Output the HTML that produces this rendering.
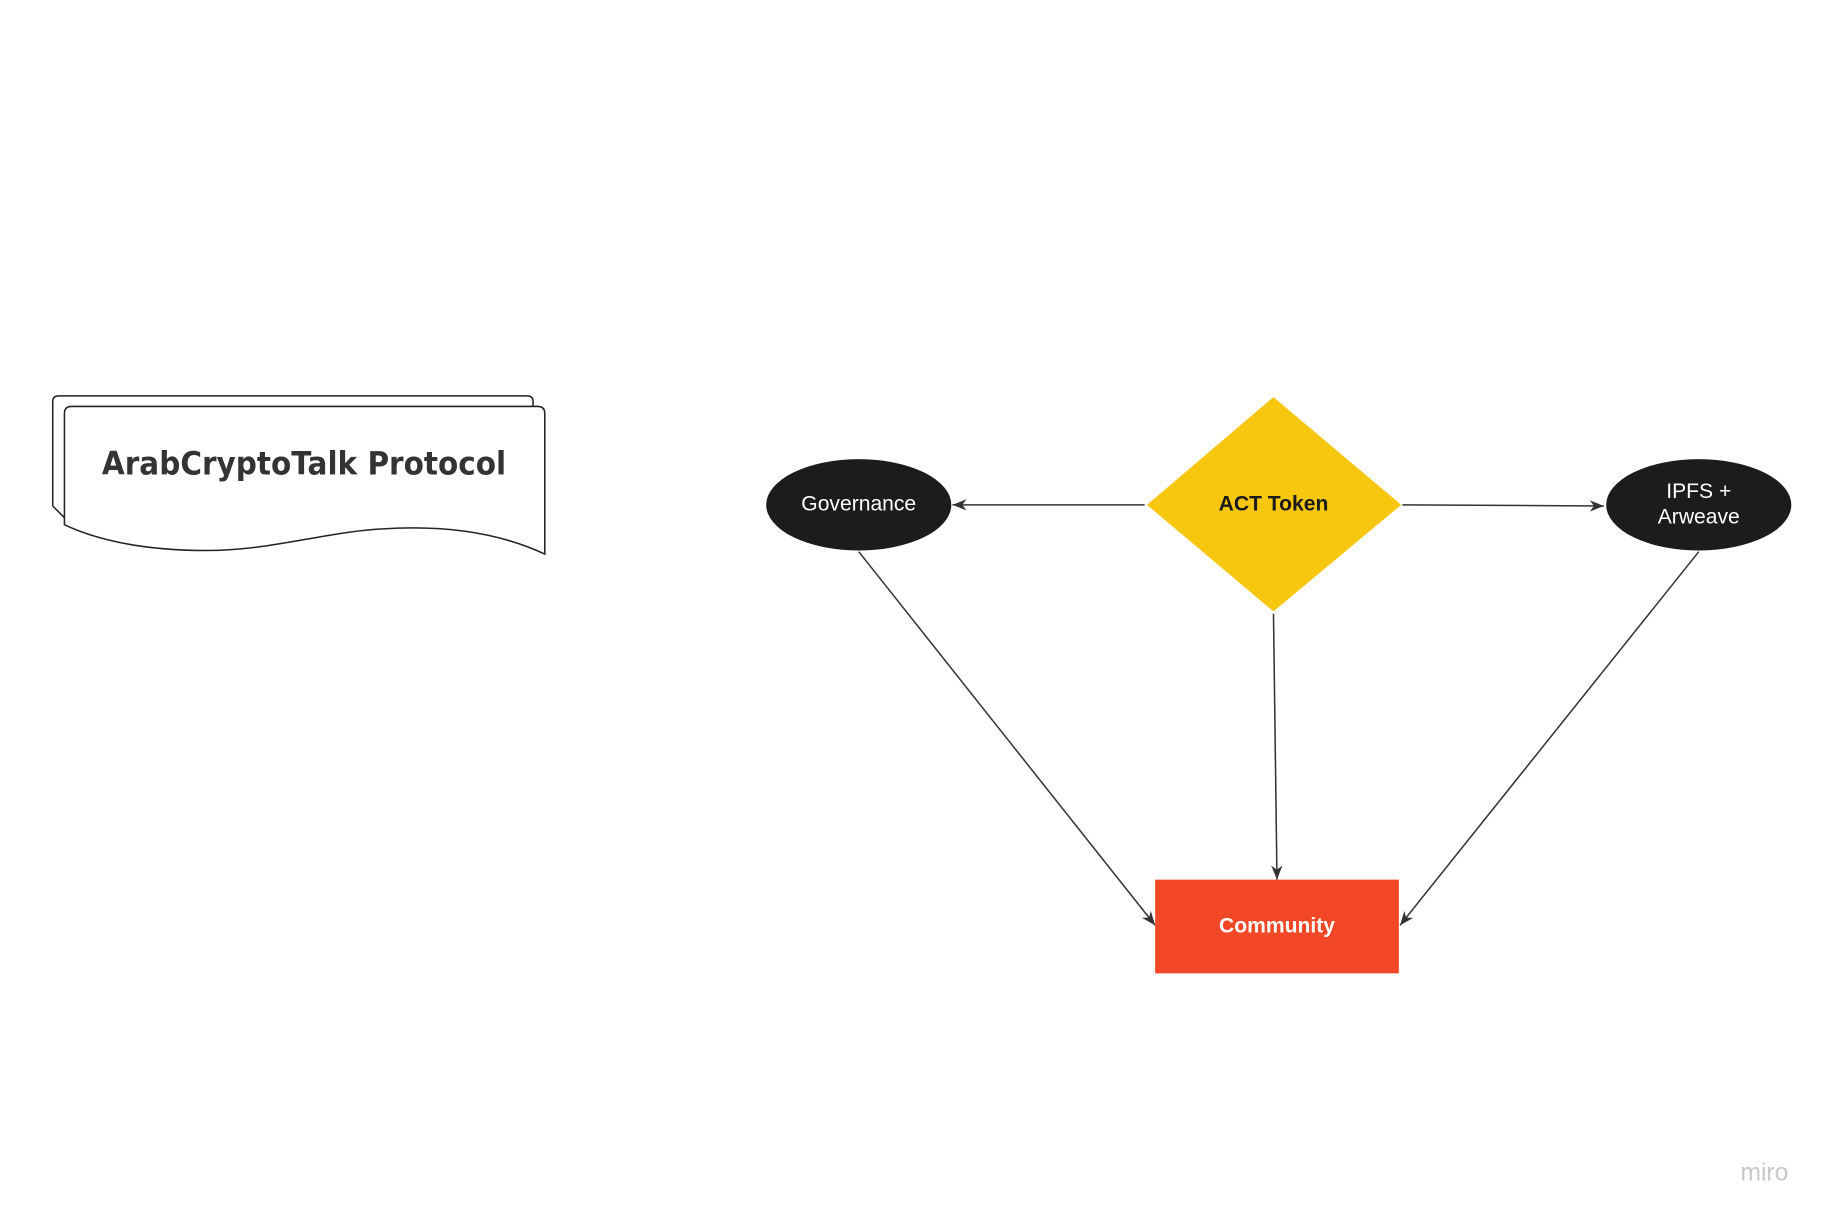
<!DOCTYPE html>
<html><head><meta charset="utf-8"><style>html,body{margin:0;padding:0;background:#fff;}svg{display:block;}</style></head>
<body>
<svg width="1837" height="1224" viewBox="0 0 1568 1045" preserveAspectRatio="none" xmlns="http://www.w3.org/2000/svg">
<defs>
<marker id="a" viewBox="0 0 10 10" refX="10" refY="5" markerWidth="12" markerHeight="12" markerUnits="userSpaceOnUse" orient="auto"><path d="M0,1 L10,5 L0,9 L3,5 Z" fill="#333"/></marker>
</defs>
<rect width="1568" height="1045" fill="#fff"/>
<path d="M45,432 L45,343 Q45,338 50,338 L450,338 Q455,338 455,343 L455,347" fill="#fff" stroke="#222" stroke-width="1.3"/>
<path d="M45,432 L55,442" fill="none" stroke="#222" stroke-width="1.3"/>
<path d="M55,448 L55,353 Q55,347 61,347 L459,347 Q465,347 465,353 L465,473 C420,452 370,448 320,452 C270,456 230,470 175,470 C120,470 80,460 55,448 Z" fill="#fff" stroke="#222" stroke-width="1.3"/>
<text x="87" y="405" textLength="345" lengthAdjust="spacingAndGlyphs" font-family="'DejaVu Sans','Liberation Sans',sans-serif" font-weight="bold" font-size="27" fill="#333">ArabCryptoTalk Protocol</text>
<g stroke="#333" stroke-width="1.3" fill="none">
<line x1="977" y1="431" x2="813" y2="431" marker-end="url(#a)"/>
<line x1="1197" y1="431" x2="1369" y2="432" marker-end="url(#a)"/>
<line x1="1087" y1="524" x2="1090" y2="751" marker-end="url(#a)"/>
<line x1="733" y1="471" x2="986" y2="790" marker-end="url(#a)"/>
<line x1="1450" y1="471" x2="1195" y2="790" marker-end="url(#a)"/>
</g>
<ellipse cx="733" cy="431" rx="79" ry="39" fill="#1c1c1c"/>
<text x="733" y="436" text-anchor="middle" font-family="'Liberation Sans',sans-serif" font-size="18" fill="#fff">Governance</text>
<polygon points="1087,339 1196,431 1087,522 979,431" fill="#f7c710"/>
<text x="1087" y="436" text-anchor="middle" font-family="'Liberation Sans',sans-serif" font-weight="bold" font-size="18" fill="#1a1a1a">ACT Token</text>
<ellipse cx="1450" cy="431" rx="79" ry="39" fill="#1c1c1c"/>
<text x="1450" y="425" text-anchor="middle" font-family="'Liberation Sans',sans-serif" font-size="18" fill="#fff">IPFS +</text>
<text x="1450" y="447" text-anchor="middle" font-family="'Liberation Sans',sans-serif" font-size="18" fill="#fff">Arweave</text>
<rect x="986" y="751" width="208" height="80" fill="#f24726"/>
<text x="1090" y="796" text-anchor="middle" font-family="'Liberation Sans',sans-serif" font-weight="bold" font-size="18" fill="#fff">Community</text>
<text x="1506" y="1008" text-anchor="middle" font-family="'Liberation Sans',sans-serif" font-size="21" fill="#c8c8c8">miro</text>
</svg>
</body></html>
